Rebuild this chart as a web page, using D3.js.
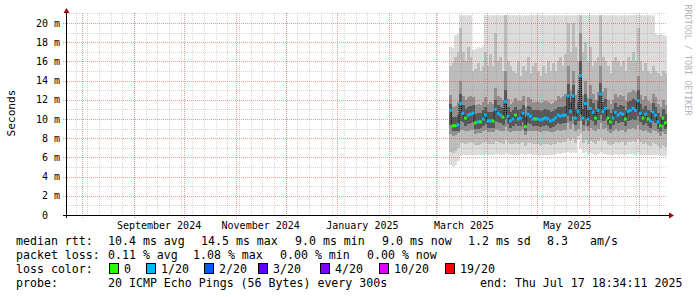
<!DOCTYPE html>
<html>
<head>
<meta charset="utf-8">
<script src="https://cdn.jsdelivr.net/npm/d3@7/dist/d3.min.js"></script>
<style>
body { margin: 0; background: #fff; }
svg { display: block; font-family: "DejaVu Sans Mono", monospace; }
</style>
</head>
<body>
<script>
// chart window: last 360 days up to the "end:" stamp
var endTime = new Date(Date.UTC(2025, 6, 17, 18, 34, 11));
var spanDays = 360;
var startTime = new Date(endTime.getTime() - spanDays * 864e5);

var yTicks = [0, 2, 4, 6, 8, 10, 12, 14, 16, 18, 20];
var labelDates = ["2024-09-16", "2024-11-16", "2025-01-16", "2025-03-18", "2025-05-19"];
var labelTexts = ["September 2024", "November 2024", "January 2025", "March 2025", "May 2025"];

// samples every 36h starting 2025-03-09 (values in ms)
var dataStart = Date.UTC(2025, 2, 9);
var stepHours = 36;
var median = [10.9, 9.3, 9.3, 9.4, 11.6, 10.6, 10.1, 10.4, 10.5, 10.6,
  9.6, 9.7, 9.7, 10.0, 10.4, 9.8, 9.8, 9.8, 11.0, 10.6,
  10.4, 10.2, 11.8, 10.3, 9.8, 10.0, 10.4, 10.0, 10.1, 10.6,
  9.2, 10.5, 10.3, 10.0, 10.0, 10.0, 9.9, 10.0, 10.1, 10.0,
  9.8, 9.9, 10.1, 10.4, 10.3, 10.4, 10.4, 12.4, 10.8, 12.4,
  10.1, 10.8, 14.5, 10.1, 11.6, 10.0, 11.1, 10.7, 10.1, 10.9,
  12.6, 10.8, 11.1, 10.1, 9.7, 10.1, 10.7, 10.4, 10.6, 10.5,
  10.0, 10.8, 10.9, 11.1, 10.9, 11.9, 10.6, 10.1, 10.5, 10.0,
  9.8, 10.7, 10.4, 9.7, 9.3, 10.1, 9.6, 9.0];
// index into lossColors
var loss = [1, 0, 0, 1, 1, 1, 0, 1, 1, 1,
  0, 1, 0, 1, 1, 1, 1, 0, 1, 1,
  1, 0, 1, 1, 1, 1, 0, 1, 1, 1,
  0, 1, 1, 1, 0, 1, 1, 1, 1, 1,
  1, 1, 1, 1, 1, 1, 1, 1, 1, 1,
  1, 1, 1, 1, 1, 1, 1, 1, 0, 1,
  1, 1, 1, 0, 0, 1, 1, 1, 1, 1,
  0, 1, 1, 1, 1, 1, 1, 0, 1, 0,
  1, 1, 1, 1, 0, 0, 0, 0];
// smoke: spread of the 20 pings per sample, outer to inner
var pingMin = [5.2, 5.0, 5.2, 5.6, 6.1, 6.2, 6.2, 6.3, 6.3, 6.3,
  6.3, 6.2, 6.3, 6.3, 6.4, 6.3, 6.3, 6.3, 6.4, 6.4,
  6.3, 6.3, 6.5, 6.4, 6.3, 6.3, 6.3, 6.3, 6.4, 6.4,
  6.3, 6.4, 6.4, 6.3, 6.3, 6.3, 6.3, 6.3, 6.3, 6.3,
  6.3, 6.3, 6.4, 6.5, 6.4, 6.5, 6.5, 6.6, 6.5, 6.6,
  6.5, 7.8, 6.9, 6.5, 6.6, 6.4, 6.5, 6.4, 6.3, 6.4,
  6.6, 6.4, 6.4, 6.3, 6.3, 6.3, 6.4, 6.3, 6.4, 6.3,
  6.3, 6.4, 6.4, 6.4, 6.3, 6.5, 6.3, 6.3, 6.3, 6.2,
  6.2, 6.3, 6.2, 6.2, 6.1, 6.1, 6.1, 6.0];
var pingLow = [6.6, 6.5, 6.7, 7.0, 7.5, 7.5, 7.4, 7.5, 7.6, 7.5,
  7.3, 7.3, 7.4, 7.5, 7.6, 7.4, 7.4, 7.4, 7.7, 7.6,
  7.5, 7.4, 7.8, 7.5, 7.4, 7.4, 7.5, 7.4, 7.5, 7.6,
  7.2, 7.5, 7.5, 7.4, 7.4, 7.4, 7.3, 7.4, 7.4, 7.4,
  7.3, 7.4, 7.4, 7.6, 7.5, 7.6, 7.6, 8.0, 7.7, 8.0,
  7.5, 8.2, 8.4, 7.5, 7.8, 7.4, 7.7, 7.6, 7.4, 7.7,
  8.0, 7.7, 7.7, 7.4, 7.3, 7.4, 7.6, 7.5, 7.6, 7.6,
  7.3, 7.6, 7.6, 7.7, 7.6, 7.9, 7.6, 7.4, 7.5, 7.3,
  7.2, 7.5, 7.4, 7.2, 7.0, 7.3, 7.1, 6.9];
var pingCoreLow = [8.4, 8.2, 8.3, 8.5, 8.9, 8.9, 8.7, 8.8, 8.9, 8.9,
  8.4, 8.5, 8.5, 8.7, 8.9, 8.6, 8.6, 8.6, 9.0, 8.9,
  8.8, 8.7, 9.2, 8.8, 8.6, 8.7, 8.8, 8.7, 8.7, 8.9,
  8.3, 8.8, 8.8, 8.7, 8.7, 8.7, 8.6, 8.7, 8.7, 8.7,
  8.6, 8.6, 8.7, 8.9, 8.8, 8.9, 8.9, 9.6, 9.0, 9.5,
  8.7, 9.0, 9.8, 8.8, 9.2, 8.7, 9.1, 8.9, 8.7, 9.0,
  9.6, 9.0, 9.1, 8.7, 8.5, 8.7, 9.0, 8.8, 8.9, 8.9,
  8.6, 9.0, 9.0, 9.1, 9.0, 9.4, 8.9, 8.7, 8.9, 8.6,
  8.5, 8.9, 8.8, 8.5, 8.2, 8.6, 8.4, 8.1];
var pingInnerLow = [9.4, 8.7, 8.7, 8.8, 9.8, 9.7, 9.3, 9.5, 9.6, 9.7,
  9.0, 9.0, 9.1, 9.3, 9.5, 9.1, 9.1, 9.1, 9.8, 9.7,
  9.6, 9.4, 10.0, 9.5, 9.1, 9.3, 9.5, 9.3, 9.3, 9.7,
  8.7, 9.6, 9.5, 9.3, 9.3, 9.3, 9.2, 9.3, 9.4, 9.3,
  9.1, 9.2, 9.4, 9.6, 9.5, 9.6, 9.6, 10.3, 9.8, 10.3,
  9.4, 9.8, 10.5, 9.4, 10.0, 9.3, 9.9, 9.8, 9.4, 9.9,
  10.4, 9.8, 10.0, 9.4, 9.0, 9.4, 9.8, 9.6, 9.7, 9.7,
  9.3, 9.8, 9.9, 10.0, 9.9, 10.3, 9.7, 9.4, 9.6, 9.3,
  9.1, 9.8, 9.6, 9.0, 8.7, 9.4, 9.0, 8.5];
var pingInnerHigh = [11.6, 10.2, 10.2, 10.4, 12.6, 11.5, 11.0, 11.3, 11.4, 11.5,
  10.5, 10.6, 10.6, 10.9, 11.3, 10.7, 10.7, 10.7, 12.0, 11.5,
  11.3, 11.1, 13.0, 11.2, 10.7, 10.9, 11.3, 10.9, 11.0, 11.5,
  10.2, 11.4, 11.2, 10.9, 10.9, 10.9, 10.8, 10.9, 11.0, 10.9,
  10.7, 10.8, 11.0, 11.3, 11.2, 11.3, 11.4, 13.6, 11.8, 13.5,
  11.0, 11.8, 16.0, 11.0, 12.6, 10.9, 12.1, 11.7, 11.0, 11.9,
  13.8, 11.8, 12.1, 11.0, 10.6, 11.0, 11.7, 11.3, 11.5, 11.4,
  10.9, 11.8, 11.9, 12.1, 11.9, 13.0, 11.6, 11.0, 11.4, 10.9,
  10.7, 11.7, 11.3, 10.6, 10.2, 11.0, 10.5, 9.9];
var pingCoreHigh = [12.5, 11.2, 11.4, 11.8, 14.0, 12.4, 12.0, 12.3, 12.4, 12.3,
  11.5, 11.6, 11.5, 11.8, 12.3, 11.6, 11.8, 11.6, 13.2, 12.4,
  12.2, 12.0, 15.0, 12.1, 11.6, 11.8, 12.2, 11.9, 11.9, 12.4,
  11.2, 12.3, 12.1, 11.8, 11.8, 11.8, 11.7, 11.8, 11.9, 11.8,
  11.6, 11.7, 11.9, 12.4, 12.2, 12.4, 12.6, 15.5, 13.0, 15.0,
  12.5, 13.0, 19.0, 12.5, 14.0, 12.2, 13.5, 12.6, 12.0, 12.8,
  15.5, 12.8, 13.2, 12.0, 11.6, 12.0, 12.6, 12.3, 12.5, 12.4,
  11.9, 12.7, 12.8, 13.0, 12.8, 14.5, 12.5, 12.0, 12.4, 11.9,
  11.7, 12.6, 12.3, 11.6, 11.2, 12.0, 11.5, 11.0];
var pingHigh = [15.5, 15.8, 16.5, 17.0, 19.5, 17.0, 16.0, 17.5, 16.5, 15.0,
  15.2, 15.8, 15.0, 15.5, 17.0, 15.5, 16.8, 15.5, 19.0, 16.0,
  16.5, 15.0, 21.0, 16.0, 15.5, 15.0, 14.8, 16.0, 14.5, 15.5,
  15.0, 16.5, 14.8, 15.5, 15.8, 15.0, 14.5, 15.5, 14.8, 16.0,
  15.0, 15.8, 15.0, 16.0, 16.5, 15.5, 16.8, 20.0, 17.0, 20.0,
  17.5, 16.0, 24.0, 17.0, 18.0, 16.0, 17.5, 15.5, 16.0, 16.5,
  21.0, 16.5, 16.0, 15.5, 14.8, 16.0, 16.5, 16.0, 15.5, 16.0,
  15.0, 16.5, 16.0, 17.0, 16.0, 19.5, 16.0, 15.0, 15.8, 15.0,
  14.8, 15.5, 15.0, 14.8, 14.5, 15.0, 14.8, 14.5];
var pingMax = [17.5, 17.4, 18.8, 18.9, 26, 25, 23, 27, 24, 17.2,
  17.3, 17.5, 17.4, 17.6, 25, 22, 26, 24, 28, 23,
  25, 22, 30, 24, 26, 23, 22, 25, 21.5, 24,
  23, 26, 22, 24, 25, 23, 21.8, 24, 22, 26,
  23, 25, 22, 24, 26, 23, 25, 28, 24, 27,
  25, 23, 32, 26, 25, 24, 26, 23, 25, 24,
  29, 25, 23, 24, 22, 26, 24, 25, 23, 24,
  22, 25, 24, 26, 23, 28, 24, 22, 25, 23,
  21.5, 24, 19.0, 18.8, 18.9, 18.7, 18.6, 18.3];
var smokeCap = 20.8; // upper limit of the graph

var lossColors = ["#26ff00", "#00b8ff", "#0059ff", "#5e00ff", "#7e00ff", "#dd00ff", "#ff0000"];
var lossLabels = ["0", "1/20", "2/20", "3/20", "4/20", "10/20", "19/20"];

var W = 697, H = 297;
var plotL = 67, plotR = 667, plotT = 13, plotB = 215;

var svg = d3.select("body").append("svg")
  .attr("width", W).attr("height", H);
svg.append("rect").attr("width", W).attr("height", H).attr("fill", "#fff");

var x = d3.scaleUtc().domain([startTime, endTime]).range([plotL, plotR]);
var y = d3.scaleLinear().domain([0, (plotB - plotT) / 9.6]).range([plotB, plotT]);

var times = median.map(function (d, i) { return new Date(dataStart + i * stepHours * 36e5); });
function colX(i) { return x(times[i]); }
function colW(i) { return x(new Date(times[i].getTime() + stepHours * 36e5)) - x(times[i]); }

svg.append("clipPath").attr("id", "plotclip")
  .append("rect").attr("x", plotL).attr("y", y(smokeCap))
  .attr("width", plotR - plotL).attr("height", plotB - y(smokeCap));

// smoke bands, outermost first
var bands = [
  [pingMin, pingMax, "#dcdcdc"],
  [pingLow, pingHigh, "#bcbcbc"],
  [pingCoreLow, pingCoreHigh, "#8f8f8f"],
  [pingInnerLow, pingInnerHigh, "#585858"]
];
var smoke = svg.append("g").attr("clip-path", "url(#plotclip)").attr("shape-rendering", "crispEdges");
bands.forEach(function (b) {
  smoke.append("g").selectAll("rect")
    .data(median)
    .enter().append("rect")
    .attr("x", function (d, i) { return colX(i); })
    .attr("width", function (d, i) { return colW(i) + 0.5; })
    .attr("y", function (d, i) { return y(Math.min(b[1][i], smokeCap)); })
    .attr("height", function (d, i) { return y(b[0][i]) - y(Math.min(b[1][i], smokeCap)); })
    .attr("fill", b[2]);
});

// grid
var minorCol = "rgba(140,140,140,0.35)";
var majorCol = "rgba(255,0,0,0.4)";
var grid = svg.append("g").attr("shape-rendering", "crispEdges");
var minorY = d3.range(1, 22, 2).filter(function (v) { return y(v) >= plotT; });
grid.selectAll("line.ymin").data(minorY).enter().append("line")
  .attr("x1", plotL - 2).attr("x2", plotR)
  .attr("y1", function (d) { return Math.round(y(d)) + 0.5; })
  .attr("y2", function (d) { return Math.round(y(d)) + 0.5; })
  .attr("stroke", minorCol).attr("stroke-dasharray", "1,1");
var weeks = d3.utcSunday.range(startTime, endTime);
grid.selectAll("line.xmin").data(weeks).enter().append("line")
  .attr("x1", function (d) { return Math.round(x(d)) + 0.5; })
  .attr("x2", function (d) { return Math.round(x(d)) + 0.5; })
  .attr("y1", plotT).attr("y2", plotB + 2)
  .attr("stroke", minorCol).attr("stroke-dasharray", "1,1");
grid.selectAll("line.ymaj").data(yTicks.slice(1)).enter().append("line")
  .attr("x1", plotL - 4).attr("x2", plotR)
  .attr("y1", function (d) { return Math.round(y(d)) + 0.5; })
  .attr("y2", function (d) { return Math.round(y(d)) + 0.5; })
  .attr("stroke", majorCol).attr("stroke-dasharray", "1,1");
var months = d3.utcMonth.range(startTime, endTime);
grid.selectAll("line.xmaj").data(months).enter().append("line")
  .attr("x1", function (d) { return Math.round(x(d)) + 0.5; })
  .attr("x2", function (d) { return Math.round(x(d)) + 0.5; })
  .attr("y1", plotT).attr("y2", plotB + 3)
  .attr("stroke", majorCol).attr("stroke-dasharray", "1,1");

// median: black step line with loss coloured marks
var stepLine = d3.line()
  .x(function (d, i) { return colX(i); })
  .y(function (d) { return y(d); })
  .curve(d3.curveStepAfter);
svg.append("path").datum(median)
  .attr("d", stepLine)
  .attr("fill", "none").attr("stroke", "#000").attr("stroke-width", 1)
  .attr("stroke-dasharray", "1,1")
  .attr("clip-path", "url(#plotclip)");
svg.append("g").attr("clip-path", "url(#plotclip)").selectAll("rect")
  .data(median).enter().append("rect")
  .attr("x", function (d, i) { return colX(i); })
  .attr("width", function (d, i) { return colW(i) + 0.3; })
  .attr("y", function (d) { return y(d) - 1.5; })
  .attr("height", 3)
  .attr("fill", function (d, i) { return lossColors[loss[i]]; });

// axes
var axisCol = "#000";
var arrowCol = "#a00000";
svg.append("line").attr("x1", plotL - 0.5).attr("x2", plotL - 0.5)
  .attr("y1", plotB + 3).attr("y2", 11).attr("stroke", axisCol);
svg.append("line").attr("x1", plotL - 4).attr("x2", plotR + 3)
  .attr("y1", plotB + 0.5).attr("y2", plotB + 0.5).attr("stroke", axisCol);
svg.append("path").attr("d", "M" + (plotL - 3.5) + ",13L" + (plotL - 0.5) + ",8L" + (plotL + 2.5) + ",13Z")
  .attr("fill", arrowCol);
svg.append("path").attr("d", "M" + (plotR + 2) + "," + (plotB - 2.5) + "L" + (plotR + 7) + "," + (plotB + 0.5) + "L" + (plotR + 2) + "," + (plotB + 3.5) + "Z")
  .attr("fill", arrowCol);

// tick labels
svg.append("g").selectAll("text").data(yTicks).enter().append("text")
  .attr("x", 60).attr("y", function (d) { return y(d) + 3.5; })
  .attr("text-anchor", "end").attr("font-size", 10).attr("fill", "#000")
  .text(function (d) { return d === 0 ? "0\u00a0\u00a0" : d + " m"; });
svg.append("g").selectAll("text").data(labelDates).enter().append("text")
  .attr("x", function (d) { return x(new Date(d + "T00:00:00Z")); })
  .attr("y", 228.5)
  .attr("text-anchor", "middle").attr("font-size", 10).attr("fill", "#000")
  .text(function (d, i) { return labelTexts[i]; });

svg.append("text").attr("transform", "translate(15,113) rotate(-90)")
  .attr("text-anchor", "middle").attr("font-size", 11.2).attr("fill", "#000")
  .text("Seconds");
svg.append("text").attr("transform", "translate(685,60) rotate(90)")
  .attr("text-anchor", "middle").attr("font-size", 8.4).attr("fill", "#b4b4b4")
  .text("RRDTOOL / TOBI OETIKER");

// legend
var legendRows = [
  [[16, "median rtt:"], [108, "10.4 ms avg"], [201, "14.5 ms max"], [295, "9.0 ms min"],
   [382, "9.0 ms now"], [468, "1.2 ms sd"], [547, "8.3"], [590, "am/s"]],
  [[16, "packet loss:"], [108, "0.11 % avg"], [193, "1.08 % max"], [280, "0.00 % min"], [367, "0.00 % now"]],
  [[16, "loss color:"]],
  [[16, "probe:"], [108, "20 ICMP Echo Pings (56 Bytes) every 300s"], [480, "end: Thu Jul 17 18:34:11 2025"]]
];
var boxX = [109, 146, 204, 258, 320, 379, 445];
var rowY = [244.5, 258.8, 273.1, 287.4];
var legend = svg.append("g").attr("font-size", 11.6).attr("fill", "#000");
legendRows.forEach(function (row, r) {
  row.forEach(function (seg) {
    legend.append("text").attr("x", seg[0]).attr("y", rowY[r])
      .attr("xml:space", "preserve").text(seg[1]);
  });
});
lossColors.forEach(function (c, i) {
  legend.append("rect").attr("x", boxX[i] + 0.5).attr("y", rowY[2] - 9.5)
    .attr("width", 9).attr("height", 10)
    .attr("fill", c).attr("stroke", "#000").attr("shape-rendering", "crispEdges");
  legend.append("text").attr("x", boxX[i] + 15).attr("y", rowY[2]).text(lossLabels[i]);
});
</script>
</body>
</html>
